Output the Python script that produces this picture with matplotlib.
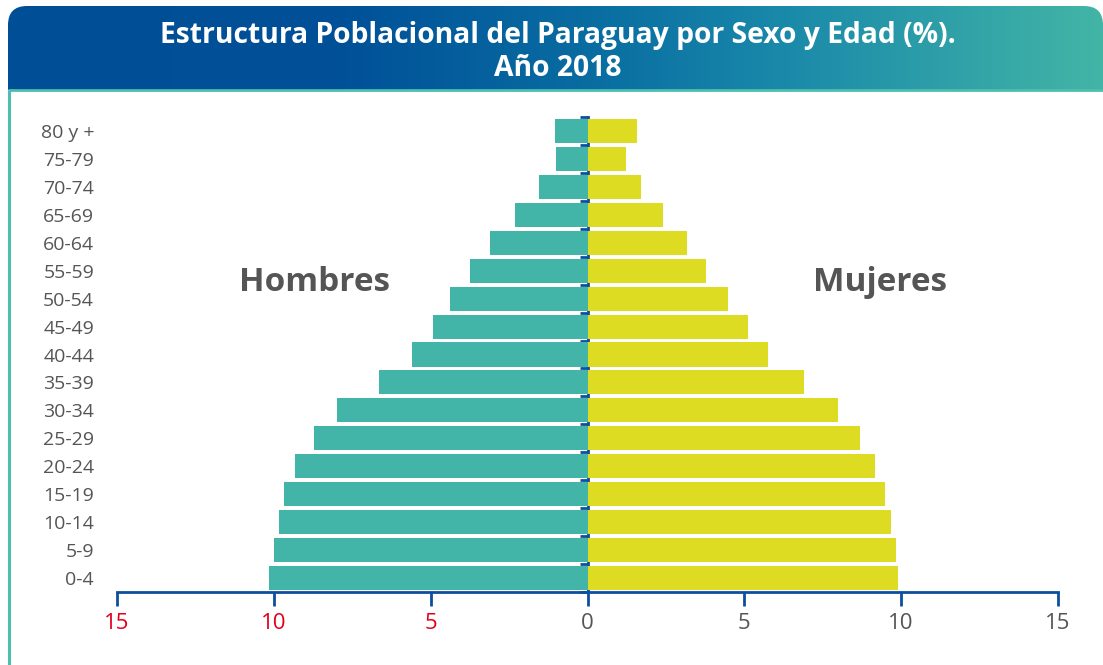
import numpy as np
import matplotlib
matplotlib.use("Agg")
import matplotlib.pyplot as plt
from matplotlib.colors import LinearSegmentedColormap
from matplotlib.patches import FancyBboxPatch
from matplotlib.ticker import FixedLocator, FuncFormatter, NullFormatter

plt.rcParams["font.family"] = ["Open Sans", "DejaVu Sans"]

age_groups = ["0-4", "5-9", "10-14", "15-19", "20-24", "25-29", "30-34",
              "35-39", "40-44", "45-49", "50-54", "55-59", "60-64",
              "65-69", "70-74", "75-79", "80 y +"]
hombres = [10.17, 10.01, 9.85, 9.66, 9.31, 8.73, 8.00, 6.66, 5.58,
           4.94, 4.37, 3.76, 3.12, 2.30, 1.56, 0.99, 1.05]
mujeres = [9.90, 9.82, 9.69, 9.50, 9.18, 8.70, 8.00, 6.89, 5.74,
           5.13, 4.49, 3.79, 3.16, 2.42, 1.72, 1.24, 1.59]
x_ticks = [-15, -10, -5, 0, 5, 10, 15]

title = "Estructura Poblacional del Paraguay por Sexo y Edad (%).\nAño 2018"

teal = "#43B5A8"
yellow = "#DEDC22"
axis_blue = "#0D4F9E"
gray = "#555555"
red = "#E2001A"

W, H = 1103, 665
fig = plt.figure(figsize=(W / 100, H / 100), dpi=100)

# background layer in pixel coordinates: header band and frame lines
bg = fig.add_axes([0, 0, 1, 1])
bg.set_xlim(0, W)
bg.set_ylim(H, 0)
bg.axis("off")

header_cmap = LinearSegmentedColormap.from_list(
    "header",
    [(0.0, "#004E96"), (0.3, "#005098"), (0.55, "#0A6FA2"),
     (0.72, "#1B8BAA"), (1.0, "#43B5A6")],
)
clip = FancyBboxPatch((8, 6), W - 8, 130, boxstyle="round,pad=0,rounding_size=19",
                      transform=bg.transData, facecolor="none", edgecolor="none")
bg.add_patch(clip)
grad = bg.imshow(np.linspace(0, 1, 512)[None, :], cmap=header_cmap,
                 extent=[8, W, 90, 6], aspect="auto", interpolation="bicubic")
grad.set_clip_path(clip)
bg.plot([8, W], [90, 90], color="#4DBFAF", lw=2, solid_capstyle="butt")
bg.plot([9, 9], [90, H], color="#4DBFAF", lw=2.2, solid_capstyle="butt")
bg.text(558, 52, title, ha="center", va="center", color="white",
        fontsize=20.3, fontweight="bold", linespacing=1.18)

# pyramid
ax = fig.add_axes([117 / W, 1 - 592 / H, 941 / W, 475 / H])
y = np.arange(len(age_groups))
ax.barh(y, -np.array(hombres), height=0.86, color=teal, zorder=2)
ax.barh(y, mujeres, height=0.86, color=yellow, zorder=2)

ax.set_xlim(-15, 15)
ax.set_ylim(-0.5, len(age_groups) - 0.5)
ax.set_xticks(x_ticks)
ax.xaxis.set_major_formatter(FuncFormatter(lambda v, p: f"{abs(v):.0f}"))
for lab, v in zip(ax.get_xticklabels(), x_ticks):
    lab.set_color(red if v < 0 else gray)
ax.tick_params(axis="x", length=10, width=2, color=axis_blue, labelsize=16, pad=5)

ax.set_yticks(y)
ax.set_yticklabels(age_groups)
ax.tick_params(axis="y", length=0, labelsize=14, labelcolor=gray, pad=16.5)

for side in ["left", "right", "top"]:
    ax.spines[side].set_visible(False)
ax.spines["bottom"].set_color(axis_blue)
ax.spines["bottom"].set_linewidth(2)

# central axis with boundary ticks pointing left
mid = ax.secondary_yaxis(0.5)
for sp in mid.spines.values():
    sp.set_color(axis_blue)
    sp.set_linewidth(2)
mid.yaxis.set_major_locator(FixedLocator(np.arange(len(age_groups) + 1) - 0.5))
mid.yaxis.set_major_formatter(NullFormatter())
mid.tick_params(axis="y", length=6, width=2, color=axis_blue, direction="in")

ax.text(-8.7, 10.57, "Hombres", ha="center", va="center", fontsize=24,
        fontweight="bold", color=gray)
ax.text(9.34, 10.57, "Mujeres", ha="center", va="center", fontsize=24,
        fontweight="bold", color=gray)

fig.savefig("out.png", dpi=100)
